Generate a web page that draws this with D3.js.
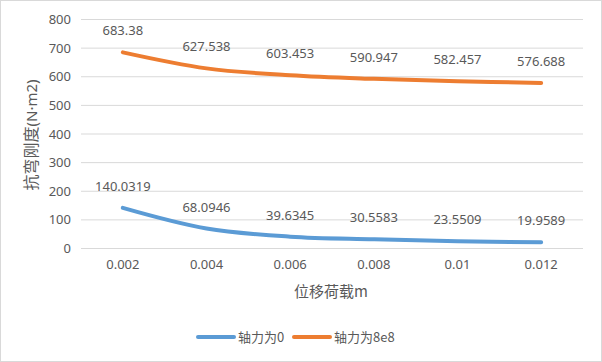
<!DOCTYPE html>
<html><head><meta charset="utf-8">
<script src="https://cdn.jsdelivr.net/npm/d3@7"></script>
<style>
body{margin:0;background:#fff;}
text{font-family:"Noto Sans CJK SC","Noto Sans",sans-serif;fill:#595959;}
</style></head>
<body><svg id="c" width="602" height="362"></svg>
<script>
const categories = ["0.002","0.004","0.006","0.008","0.01","0.012"];
const series0 = [140.0319,68.0946,39.6345,30.5583,23.5509,19.9589];
const series1 = [683.38,627.538,603.453,590.947,582.457,576.688];
const labels0 = ["140.0319","68.0946","39.6345","30.5583","23.5509","19.9589"];
const labels1 = ["683.38","627.538","603.453","590.947","582.457","576.688"];
const yTicks = [0,100,200,300,400,500,600,700,800];
const seriesNames = ["轴力为0","轴力为8e8"];
const colors = ["#5B9BD5","#ED7D31"];

const svg = d3.select("#c");
svg.append("rect").attr("x",0.5).attr("y",0.5).attr("width",601).attr("height",361)
  .attr("fill","#fff").attr("stroke","#D9D9D9");

const x = d3.scaleBand().domain(categories).range([81,583]);
const y = d3.scaleLinear().domain([0,800]).range([248,19]);

svg.append("g").selectAll("line").data(yTicks).join("line")
  .attr("x1",81).attr("x2",583).attr("y1",d=>y(d)+0.5).attr("y2",d=>y(d)+0.5)
  .attr("stroke","#D9D9D9").attr("stroke-width",1);

const yAxis = d3.axisLeft(y).tickValues(yTicks).tickSize(0).tickPadding(0);
const gy = svg.append("g").attr("transform","translate(71,0)").call(yAxis);
gy.select(".domain").remove();
gy.selectAll("text").style("font-size","13px").attr("fill","#595959").attr("dy","0.35em")
  .style("font-family","'Noto Sans','Noto Sans CJK SC',sans-serif");

const xAxis = d3.axisBottom(x).tickSize(0).tickPadding(0);
const gx = svg.append("g").attr("transform","translate(0,260)").call(xAxis);
gx.select(".domain").remove();
gx.selectAll("text").style("font-size","13px").attr("fill","#595959").attr("dy","0.71em")
  .style("font-family","'Noto Sans','Noto Sans CJK SC',sans-serif");

svg.append("text").attr("x",331).attr("y",297).attr("text-anchor","middle")
  .style("font-size","15px").text("位移荷载m");
const yt = svg.append("text").attr("transform","translate(37,135) rotate(-90)").attr("text-anchor","middle")
  .style("font-size","16px");
yt.append("tspan").text("抗弯刚度");
yt.append("tspan").style("font-family","'Noto Sans',sans-serif").style("font-size","15px").text("(N·m2)");

const cx = d => x(d) + x.bandwidth()/2;
const line = d3.line().x((d,i)=>cx(categories[i])).y(d=>y(d)).curve(d3.curveCatmullRom.alpha(0.5));

[series0,series1].forEach((s,k)=>{
  svg.append("path").datum(s).attr("d",line).attr("fill","none")
    .attr("stroke",colors[k]).attr("stroke-width",4).attr("stroke-linecap","round");
});

[[series0,labels0],[series1,labels1]].forEach(([s,l])=>{
  svg.append("g").selectAll("text").data(s).join("text")
    .attr("x",(d,i)=>cx(categories[i])).attr("y",d=>y(d)-17)
    .attr("text-anchor","middle").style("font-size","13px").attr("fill","#404040")
    .style("font-family","'Noto Sans','Noto Sans CJK SC',sans-serif")
    .text((d,i)=>l[i]);
});

const leg = [[198,238],[294,334]];
seriesNames.forEach((n,k)=>{
  svg.append("line").attr("x1",leg[k][0]).attr("x2",leg[k][0]+36).attr("y1",337).attr("y2",337)
    .attr("stroke",colors[k]).attr("stroke-width",4).attr("stroke-linecap","round");
  svg.append("text").attr("x",leg[k][1]).attr("y",337).attr("dy","0.35em")
    .style("font-size","13px").text(n);
});
</script></body></html>
